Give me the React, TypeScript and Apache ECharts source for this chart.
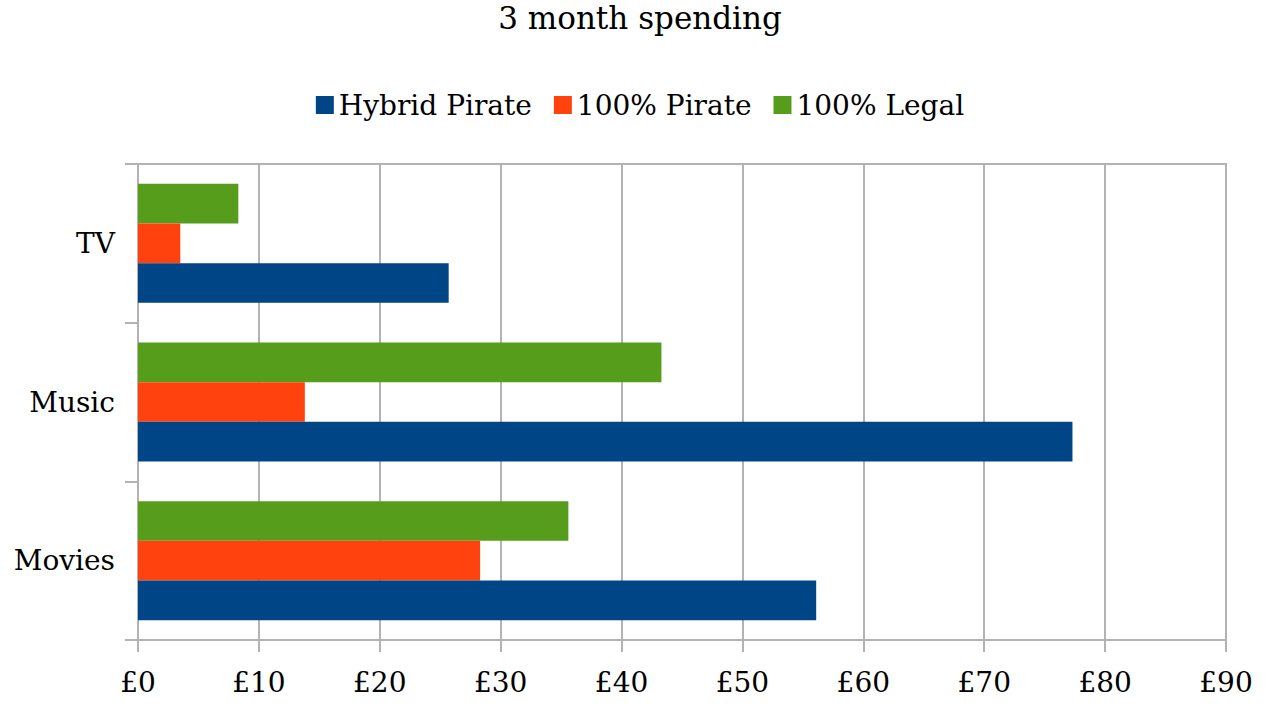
import React, { useEffect, useRef } from "react";
import * as echarts from "echarts";

const categories = ["Movies", "Music", "TV"];
const seriesNames = ["Hybrid Pirate", "100% Pirate", "100% Legal"];
const hybridPirate = [56.1, 77.3, 25.7];
const fullPirate = [28.3, 13.8, 3.5];
const fullLegal = [35.6, 43.3, 8.3];
const colors = ["#004586", "#ff420e", "#579d1c"];
const titleText = "3 month spending";

const FONT = "DejaVu Serif";
const GRID_COLOR = "#b3b3b3";

export default function App() {
  const ref = useRef<HTMLDivElement>(null);
  useEffect(() => {
    if (!ref.current) return;
    const chart = echarts.init(ref.current, undefined, { renderer: "svg" });
    const values = [hybridPirate, fullPirate, fullLegal];
    // ECharts stacks horizontal bars top-down in series order, so draw them reversed
    const order = [2, 1, 0];
    chart.setOption({
      animation: false,
      backgroundColor: "#ffffff",
      title: {
        text: titleText,
        left: "center",
        top: -3,
        textStyle: { fontFamily: FONT, fontSize: 31, fontWeight: "normal", color: "#000" },
      },
      legend: {
        data: seriesNames,
        left: "center",
        top: 86,
        itemWidth: 18,
        itemHeight: 18,
        itemGap: 22,
        icon: "rect",
        textStyle: { fontFamily: FONT, fontSize: 28, color: "#000" },
      },
      grid: {
        left: 138,
        right: 54,
        top: 164,
        bottom: 82,
        show: true,
        borderColor: GRID_COLOR,
        borderWidth: 2,
        containLabel: false,
      },
      xAxis: {
        type: "value",
        min: 0,
        max: 90,
        interval: 10,
        axisLine: { show: true, lineStyle: { color: GRID_COLOR, width: 2 } },
        axisTick: { show: true, length: 12, lineStyle: { color: GRID_COLOR, width: 2 } },
        splitLine: { show: true, lineStyle: { color: GRID_COLOR, width: 2 } },
        axisLabel: {
          formatter: "£{value}",
          margin: 28,
          fontFamily: FONT,
          fontSize: 28,
          color: "#000",
        },
      },
      yAxis: {
        type: "category",
        data: categories,
        axisLine: { show: true, lineStyle: { color: GRID_COLOR, width: 2 } },
        axisTick: { show: true, length: 13, lineStyle: { color: GRID_COLOR, width: 2 } },
        splitLine: { show: false },
        axisLabel: {
          margin: 23,
          fontFamily: FONT,
          fontSize: 28,
          color: "#000",
        },
      },
      series: order.map((i) => ({
        name: seriesNames[i],
        type: "bar",
        data: values[i],
        barCategoryGap: "25%",
        barGap: "0%",
        itemStyle: { color: colors[i] },
      })),
    });
    return () => chart.dispose();
  }, []);
  return (
    <div
      ref={ref}
      style={{ position: "absolute", left: 0, top: 0, width: 1280, height: 722 }}
    />
  );
}
